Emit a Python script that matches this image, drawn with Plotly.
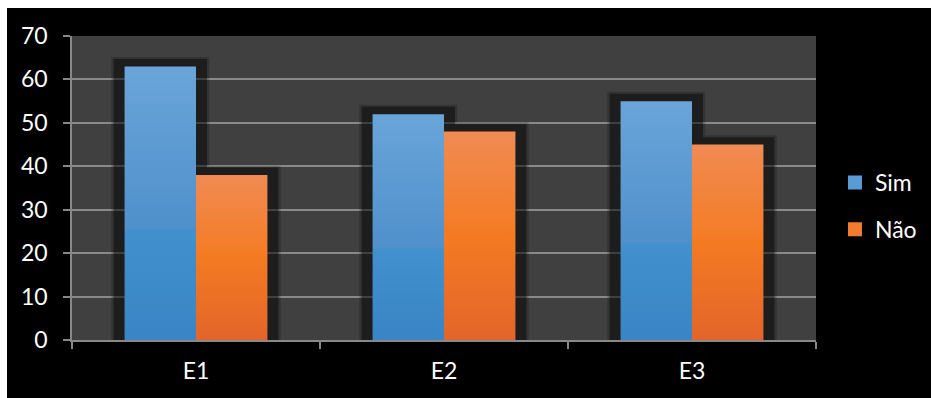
import plotly.graph_objects as go

# Survey answers per item
categories = ["E1", "E2", "E3"]
sim_values = [63, 52, 55]
nao_values = [38, 48, 45]
y_ticks = [0, 10, 20, 30, 40, 50, 60, 70]

FONT = "Lato"
BAR_W = 0.288      # bar width in category units
SH_DX = 0.0444     # shadow spill left/right
SH_DY = 1.7        # shadow spill above the bar top
SOFT_DX = 0.009    # soft outer rim of the shadow
SOFT_DY = 0.45

blue_scale = [[0.0, "#3a85c5"], [0.40, "#4290cd"], [0.41, "#5090cb"],
              [0.75, "#5e9cd3"], [1.0, "#6aa5d9"]]
orange_scale = [[0.0, "#e3652a"], [0.5, "#f47a22"], [0.53, "#f47c26"],
                [1.0, "#f08b53"]]

fig = go.Figure()


def shadow_outline(i, s, n, dx, dy):
    left, right = i - BAR_W - dx, i + BAR_W + dx
    step = i + dx if s >= n else i - dx
    xs = [left, left, step, step, right, right, left]
    ys = [0, s + dy, s + dy, n + dy, n + dy, 0, 0]
    return xs, ys


# drop shadows behind each pair of bars
for i, (s, n) in enumerate(zip(sim_values, nao_values)):
    for dx, dy, alpha in [(SH_DX + SOFT_DX, SH_DY + SOFT_DY, 0.2), (SH_DX, SH_DY, 0.42)]:
        xs, ys = shadow_outline(i, s, n, dx, dy)
        fig.add_trace(go.Scatter(
            x=xs, y=ys, mode="lines", fill="toself",
            fillcolor=f"rgba(0,0,0,{alpha})", line=dict(width=0),
            hoverinfo="skip", showlegend=False))

# gradient-filled bars
for name, values, scale, side in [("Sim", sim_values, blue_scale, -1),
                                  ("Não", nao_values, orange_scale, 1)]:
    for i, v in enumerate(values):
        x0 = i if side > 0 else i - BAR_W
        x1 = x0 + BAR_W
        fig.add_trace(go.Scatter(
            x=[x0, x0, x1, x1, x0], y=[0, v, v, 0, 0],
            mode="lines", fill="toself", line=dict(width=0),
            fillgradient=dict(type="vertical", colorscale=scale, start=0, stop=v),
            name=name, legendgroup=name, showlegend=False,
            hovertemplate=f"{categories[i]}: {v}<extra>{name}</extra>"))

# legend entries
for name, color in [("Sim", "#5b9bd5"), ("Não", "#f27b30")]:
    fig.add_trace(go.Bar(x=[None], y=[None], name=name, legendgroup=name,
                         marker=dict(color=color, line=dict(color=color, width=2))))

axis_gray = "#888888"
fig.update_layout(
    width=931, height=398,
    margin=dict(l=72, r=115, t=36, b=58, autoexpand=False),
    paper_bgcolor="#000000", plot_bgcolor="#404040",
    font=dict(family=FONT, size=23, color="#ffffff"),
    showlegend=True,
    legend=dict(x=1.0255, xanchor="left", y=0.441, yanchor="middle",
                font=dict(family=FONT, size=23, color="#ffffff"),
                tracegroupgap=14, bgcolor="rgba(0,0,0,0)"),
    xaxis=dict(range=[-0.5, 2.5], tickvals=[0, 1, 2], ticktext=categories,
               ticks="", showgrid=False, zeroline=False,
               showline=True, linecolor=axis_gray, linewidth=1.5,
               ticklabelstandoff=10,
               minor=dict(tickvals=[-0.5, 0.5, 1.5, 2.5], ticks="outside",
                          ticklen=7, tickcolor=axis_gray, tickwidth=1.5,
                          showgrid=False),
               fixedrange=True),
    yaxis=dict(range=[0, 70], tickvals=y_ticks, ticks="outside", ticklen=7,
               tickcolor=axis_gray, tickwidth=1.5,
               showgrid=True, gridcolor="#8a8a8a", gridwidth=1.5,
               zeroline=False, showline=True, linecolor=axis_gray, linewidth=1.5,
               ticklabelstandoff=11, fixedrange=True),
    shapes=[
        dict(type="rect", xref="paper", yref="paper", x0=-0.2, x1=(7 - 72) / 744,
             y0=-1, y1=2, fillcolor="#ffffff", line=dict(width=0), layer="above"),
        dict(type="rect", xref="paper", yref="paper", x0=-0.2, x1=1.5,
             y0=(340 - 8) / 304, y1=1.5, fillcolor="#ffffff", line=dict(width=0),
             layer="above"),
    ],
)

fig.write_html("out.html")
